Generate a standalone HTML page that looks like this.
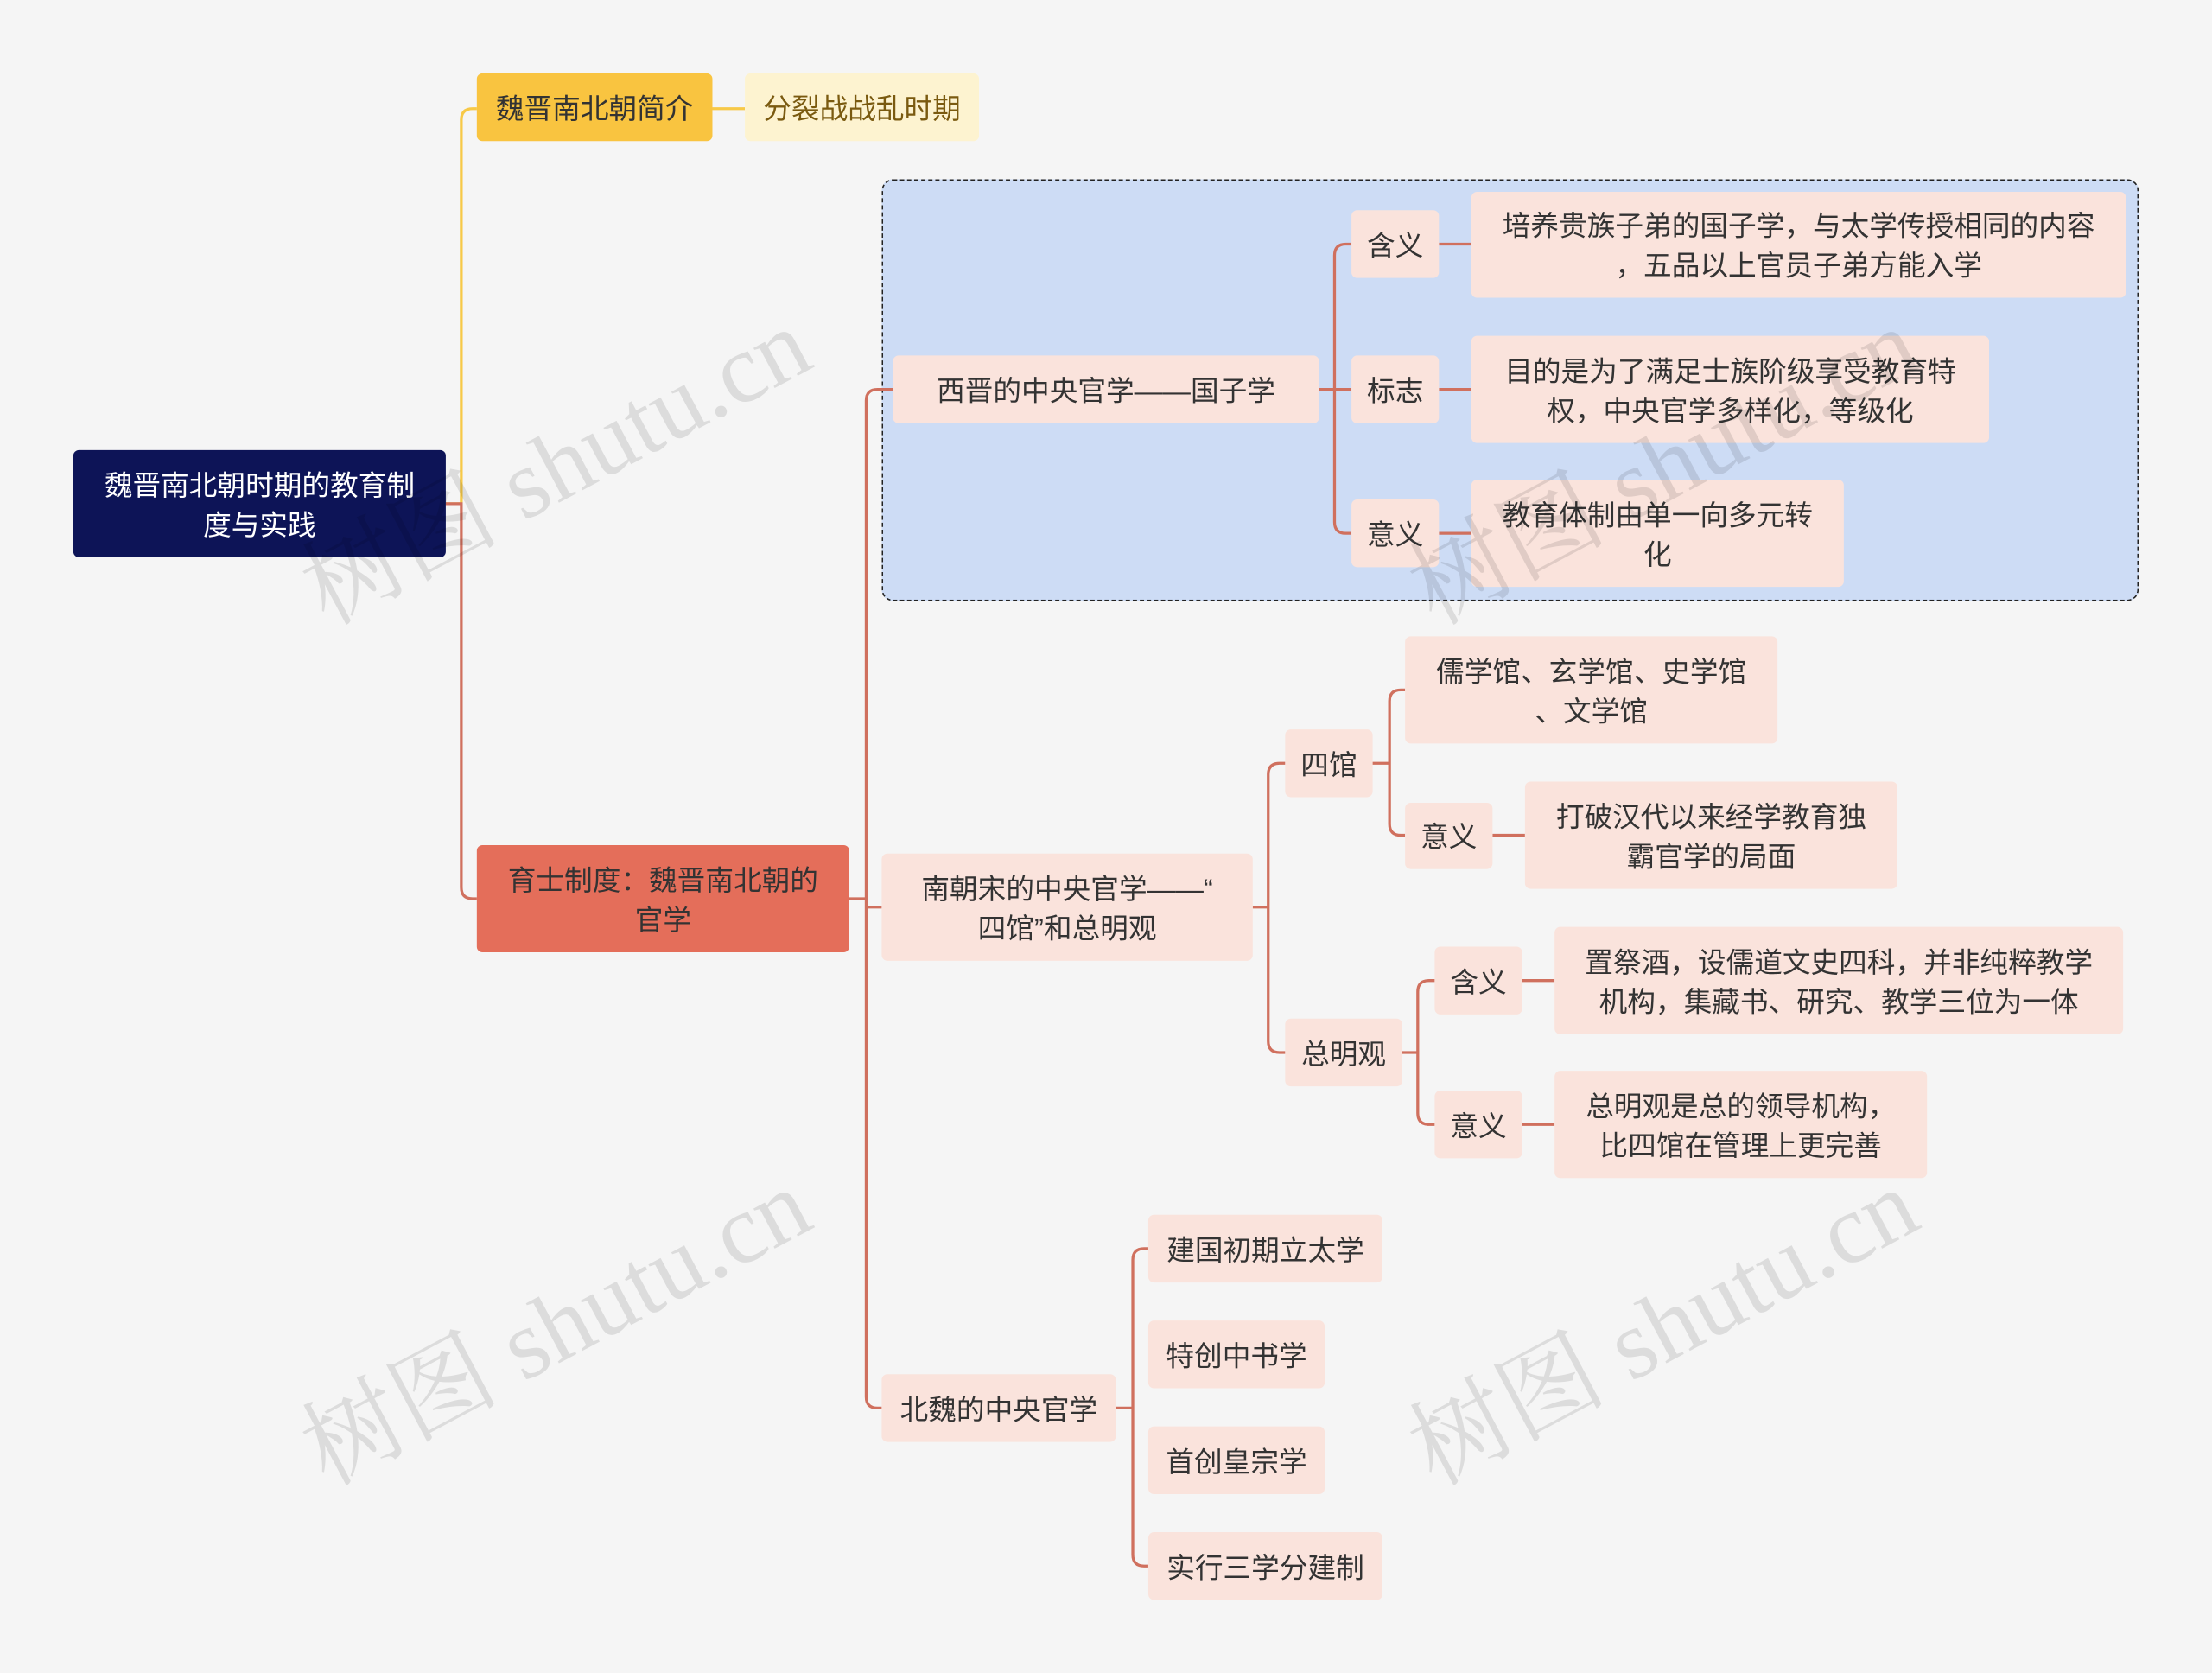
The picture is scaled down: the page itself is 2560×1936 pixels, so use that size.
<!DOCTYPE html>
<html><head><meta charset="utf-8">
<style>
html,body{margin:0;padding:0;background:#f5f5f5;width:2560px;height:1936px;overflow:hidden}
#w{position:absolute;left:0;top:0;width:1568px;height:1186px;transform:scale(1.63265);transform-origin:0 0;font-family:"Liberation Sans","Noto Sans CJK SC",sans-serif}
.n{position:absolute;display:flex;align-items:center;justify-content:center;text-align:center;box-sizing:border-box;border-radius:4px;font-size:20px;line-height:28px;color:#333;background:#fae3dc;padding-top:3px}
.wm{position:absolute;font-size:70px;color:rgba(0,0,0,0.10);transform:rotate(-28deg);white-space:nowrap;font-family:"Liberation Serif","Noto Serif CJK SC",serif}
</style></head><body><div id="w">
<div style="position:absolute;left:625px;top:127px;width:891px;height:299px;background:#cddcf5;border:1.6px dashed #222;border-radius:8px;box-sizing:border-box"></div>
<svg width="1568" height="1186" style="position:absolute;left:0;top:0" fill="none" stroke-width="2">
<g stroke="#f7c948"><path d="M316 357 H327 V85 Q327 77 335 77 H338"/><path d="M505 77 H528"/></g>
<g stroke="#d0705e">
<path d="M316 357 H327 V629 Q327 637 335 637 H338"/>
<path d="M602 637 H614"/><path d="M633 276 H622 Q614 276 614 284 V990 Q614 998 622 998 H625"/><path d="M614 643 H625"/>
<path d="M935 276 H958"/><path d="M958 173 H954 Q946 173 946 181 V370 Q946 378 954 378 H958"/>
<path d="M1020 173 H1043"/><path d="M1020 276 H1043"/><path d="M1020 378 H1043"/>
<path d="M888 643 H899"/><path d="M911 541 H907 Q899 541 899 549 V738 Q899 746 907 746 H911"/>
<path d="M973 541 H985"/><path d="M996 489 H993 Q985 489 985 497 V584 Q985 592 993 592 H996"/><path d="M1058 592 H1081"/>
<path d="M994 746 H1005"/><path d="M1017 695 H1013 Q1005 695 1005 703 V789 Q1005 797 1013 797 H1017"/>
<path d="M1079 695 H1102"/><path d="M1079 797 H1102"/>
<path d="M791 998 H803"/><path d="M814 885 H811 Q803 885 803 893 V1102 Q803 1110 811 1110 H814"/>
</g></svg>
<div class="n" style="left:52px;top:319px;width:264px;height:76px;background:#0d1457;color:#fff">魏晋南北朝时期的教育制<br>度与实践</div>
<div class="n" style="left:338px;top:52px;width:167px;height:48px;background:#f9c440">魏晋南北朝简介</div>
<div class="n" style="left:528px;top:52px;width:166px;height:48px;background:#fdf3d0;color:#7a5a10">分裂战战乱时期</div>
<div class="n" style="left:338px;top:599px;width:264px;height:76px;background:#e46e5a">育士制度：魏晋南北朝的<br>官学</div>
<div class="n" style="left:633px;top:252px;width:302px;height:48px">西晋的中央官学——国子学</div>
<div class="n" style="left:958px;top:149px;width:62px;height:48px">含义</div>
<div class="n" style="left:1043px;top:136px;width:464px;height:75px">培养贵族子弟的国子学，与太学传授相同的内容<br>，五品以上官员子弟方能入学</div>
<div class="n" style="left:958px;top:252px;width:62px;height:48px">标志</div>
<div class="n" style="left:1043px;top:238px;width:367px;height:76px">目的是为了满足士族阶级享受教育特<br>权，中央官学多样化，等级化</div>
<div class="n" style="left:958px;top:354px;width:62px;height:48px">意义</div>
<div class="n" style="left:1043px;top:340px;width:264px;height:76px">教育体制由单一向多元转<br>化</div>
<div class="n" style="left:625px;top:605px;width:263px;height:76px">南朝宋的中央官学——“<br>四馆”和总明观</div>
<div class="n" style="left:911px;top:517px;width:62px;height:48px">四馆</div>
<div class="n" style="left:996px;top:451px;width:264px;height:76px">儒学馆、玄学馆、史学馆<br>、文学馆</div>
<div class="n" style="left:996px;top:569px;width:62px;height:47px">意义</div>
<div class="n" style="left:1081px;top:554px;width:264px;height:76px">打破汉代以来经学教育独<br>霸官学的局面</div>
<div class="n" style="left:911px;top:722px;width:83px;height:48px">总明观</div>
<div class="n" style="left:1017px;top:671px;width:62px;height:48px">含义</div>
<div class="n" style="left:1102px;top:657px;width:403px;height:76px">置祭酒，设儒道文史四科，并非纯粹教学<br>机构，集藏书、研究、教学三位为一体</div>
<div class="n" style="left:1017px;top:773px;width:62px;height:48px">意义</div>
<div class="n" style="left:1102px;top:759px;width:264px;height:76px">总明观是总的领导机构，<br>比四馆在管理上更完善</div>
<div class="n" style="left:625px;top:974px;width:166px;height:48px">北魏的中央官学</div>
<div class="n" style="left:814px;top:861px;width:166px;height:48px">建国初期立太学</div>
<div class="n" style="left:814px;top:936px;width:125px;height:48px">特创中书学</div>
<div class="n" style="left:814px;top:1011px;width:125px;height:48px">首创皇宗学</div>
<div class="n" style="left:814px;top:1086px;width:166px;height:48px">实行三学分建制</div>
<div class="wm" style="left:195px;top:275px">树图 shutu.cn</div>
<div class="wm" style="left:980px;top:275px">树图 shutu.cn</div>
<div class="wm" style="left:195px;top:885px">树图 shutu.cn</div>
<div class="wm" style="left:980px;top:885px">树图 shutu.cn</div>
</div></body></html>
